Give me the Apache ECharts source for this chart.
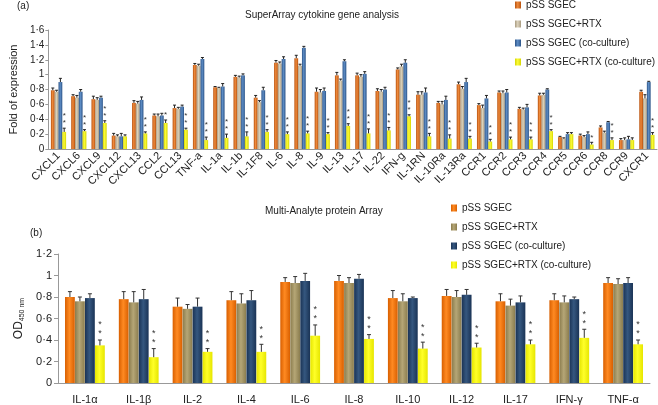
<!DOCTYPE html>
<html>
<head>
<meta charset="utf-8">
<script src="https://cdn.jsdelivr.net/npm/echarts@6/dist/echarts.min.js"></script>
<style>html,body{margin:0;padding:0;background:#fff;}#c{width:658px;height:405px;}</style>
</head>
<body>
<div id="c"></div>
<script>
// ---------- Panel (a): SuperArray cytokine gene analysis ----------
const catsA = ['CXCL1','CXCL6','CXCL9','CXCL12','CXCL13','CCL2','CCL13','TNF-a','IL-1a','IL-1b','IL-1F8','IL-6','IL-8','IL-9','IL-13','IL-17','IL-22','IFN-g','IL-1RN','IL-10Ra','IL-13Ra','CCR1','CCR2','CCR3','CCR4','CCR5','CCR6','CCR8','CCR9','CXCR1'];
const aSGEC      = [0.79,0.71,0.67,0.18,0.62,0.45,0.55,1.13,0.83,0.97,0.69,1.16,1.22,0.77,0.99,0.99,0.78,1.07,0.73,0.62,0.87,0.59,0.76,0.54,0.72,0.16,0.18,0.29,0.12,0.77];
const aSGECRTX   = [0.77,0.69,0.66,0.17,0.61,0.44,0.54,1.12,0.82,0.96,0.63,1.15,1.12,0.76,0.92,0.97,0.77,1.11,0.73,0.60,0.81,0.55,0.75,0.53,0.73,0.14,0.16,0.22,0.12,0.68];
const aCo        = [0.90,0.77,0.69,0.17,0.66,0.45,0.57,1.21,0.84,0.99,0.79,1.21,1.36,0.78,1.18,1.01,0.80,1.16,0.76,0.66,0.90,0.68,0.76,0.56,0.80,0.20,0.20,0.36,0.13,0.90];
const aCoRTX     = [0.23,0.24,0.35,0.17,0.21,0.35,0.26,0.12,0.15,0.17,0.23,0.20,0.21,0.20,0.31,0.21,0.25,0.44,0.17,0.14,0.14,0.10,0.13,0.13,0.24,0.20,0.06,0.12,0.12,0.19];
const aErrSGEC   = [0.03,0.02,0.04,0.03,0.03,0.02,0.04,0.02,0.01,0.02,0.03,0.03,0.04,0.05,0.04,0.03,0.03,0.02,0.04,0.02,0.03,0.02,0.02,0.02,0.03,0.01,0.02,0.02,0.02,0.02];
const aErrRTX    = [0.02,0.03,0.03,0.02,0.03,0.03,0.02,0.02,0.01,0.02,0.02,0.02,0.02,0.04,0.02,0.03,0.03,0.03,0.04,0.04,0.03,0.04,0.03,0.02,0.02,0.01,0.02,0.02,0.03,0.05];
const aErrCo     = [0.05,0.03,0.02,0.04,0.04,0.03,0.02,0.02,0.04,0.02,0.04,0.03,0.02,0.04,0.02,0.03,0.03,0.04,0.06,0.05,0.05,0.04,0.04,0.04,0.01,0.02,0.03,0.01,0.04,0.01];
const aErrCoRTX  = [0.05,0.02,0.03,0.02,0.02,0.04,0.02,0.04,0.05,0.06,0.03,0.03,0.03,0.02,0.03,0.06,0.04,0.02,0.04,0.05,0.03,0.03,0.03,0.03,0.02,0.02,0.03,0.03,0.03,0.03];
const aStars     = [2,2,2,0,2,1,2,2,2,2,2,2,2,2,2,2,2,2,2,2,2,2,2,2,2,0,1,2,0,2];

// ---------- Panel (b): Multi-Analyte protein Array ----------
const catsB = ['IL-1\u03b1','IL-1\u03b2','IL-2','IL-4','IL-6','IL-8','IL-10','IL-12','IL-17','IFN-\u03b3','TNF-\u03b1'];
const bSGEC     = [0.80,0.78,0.71,0.77,0.94,0.95,0.79,0.81,0.76,0.77,0.93];
const bSGECRTX  = [0.76,0.75,0.69,0.74,0.93,0.93,0.76,0.80,0.72,0.75,0.92];
const bCo       = [0.79,0.78,0.71,0.77,0.95,0.97,0.79,0.82,0.75,0.78,0.93];
const bCoRTX    = [0.35,0.24,0.29,0.29,0.44,0.41,0.32,0.33,0.36,0.42,0.36];
const bErrSGEC  = [0.05,0.07,0.08,0.08,0.04,0.05,0.07,0.06,0.07,0.06,0.05];
const bErrRTX   = [0.04,0.10,0.04,0.09,0.06,0.05,0.07,0.06,0.06,0.06,0.05];
const bErrCo    = [0.04,0.09,0.08,0.09,0.07,0.04,0.01,0.05,0.06,0.02,0.05];
const bErrCoRTX = [0.05,0.08,0.03,0.07,0.10,0.04,0.06,0.04,0.04,0.08,0.04];
const bStars    = [2,2,2,2,2,2,2,2,2,2,2];

const yTicksA = [0,0.2,0.4,0.6,0.8,1,1.2,1.4,1.6];
const yTicksB = [0,0.2,0.4,0.6,0.8,1,1.2];
const names = ['pSS SGEC','pSS SGEC+RTX','pSS SGEC (co-culture)','pSS SGEC+RTX (co-culture)'];

const FONT = '"Liberation Sans", Arial, Helvetica, sans-serif';
function grad(a, b) {
  return {type:'linear', x:0, y:0, x2:1, y2:0, colorStops:[{offset:0,color:a},{offset:0.45,color:b},{offset:1,color:a}]};
}
const colA = [grad('#B8520F','#EE8A3C'), grad('#A89B80','#DCD2BC'), grad('#2C5488','#5D8CC4'), grad('#D6D600','#FBFB3A')];
const colB = [grad('#D85F00','#FF8A22'), grad('#8A7C4E','#B5A676'), grad('#1A3355','#35577F'), grad('#E6E600','#FFFF28')];

const fmt = v => String(+(+v).toFixed(1)).replace('.', '\u00b7');

function errData(vals, errs, stars) {
  const out = [];
  for (let s = 0; s < 4; s++) {
    for (let i = 0; i < vals[s].length; i++) {
      out.push([i, s, vals[s][i], errs[s][i], s === 3 ? stars[i] : 0]);
    }
  }
  return out;
}

function makeRender(bw, capW, starFs, off1, off2, lineColor) {
  return function (params, api) {
    const c = api.value(0), s = api.value(1), v = api.value(2), e = api.value(3), st = api.value(4);
    const base = api.coord([c, v]);
    const top = api.coord([c, v + e]);
    const x = base[0] + (s - 1.5) * bw;
    const children = [
      {type:'line', shape:{x1:x, y1:base[1], x2:x, y2:top[1]}, style:{stroke:lineColor, lineWidth:1}},
      {type:'line', shape:{x1:x - capW/2, y1:top[1], x2:x + capW/2, y2:top[1]}, style:{stroke:lineColor, lineWidth:1}}
    ];
    const offs = [off1, off2];
    for (let k = 0; k < st; k++) {
      children.push({type:'text', style:{text:'*', x:x, y:top[1] - offs[k], textAlign:'center', textVerticalAlign:'middle', font: starFs + 'px ' + FONT, fill:'#333'}});
    }
    return {type:'group', children};
  };
}

const barsA = [aSGEC, aSGECRTX, aCo, aCoRTX].map((d, i) => ({
  name: names[i], type:'bar', xAxisIndex:0, yAxisIndex:0, data:d, barWidth:3.8, barGap:'0%',
  itemStyle:{color:colA[i]}, animation:false
}));
const barsB = [bSGEC, bSGECRTX, bCo, bCoRTX].map((d, i) => ({
  name: names[i] + ' ', type:'bar', xAxisIndex:1, yAxisIndex:1, data:d, barWidth:9.8, barGap:'2%',
  itemStyle:{color:colB[i]}, animation:false
}));

const chart = echarts.init(document.getElementById('c'), null, {renderer:'canvas'});
chart.setOption({
  animation:false,
  textStyle:{fontFamily:FONT},
  graphic:[
    {type:'text', left:17, top:1, style:{text:'(a)', font:'10px ' + FONT, fill:'#222'}},
    {type:'text', left:245, top:10, style:{text:'SuperArray cytokine gene analysis', font:'10px ' + FONT, fill:'#222'}},
    {type:'text', left:30, top:228, style:{text:'(b)', font:'10px ' + FONT, fill:'#222'}},
    {type:'text', left:265, top:206, style:{text:'Multi-Analyte protein Array', font:'10px ' + FONT, fill:'#222'}}
  ],
  legend:[
    {orient:'vertical', left:515, top:0, padding:0, itemWidth:6, itemHeight:7, itemGap:9, icon:'rect',
     data:names, textStyle:{fontSize:10, color:'#222', fontFamily:FONT}, selectedMode:false},
    {orient:'vertical', left:451, top:203, padding:0, itemWidth:6, itemHeight:7, itemGap:9, icon:'rect',
     data:names.map(n => n + ' '), textStyle:{fontSize:10, color:'#222', fontFamily:FONT}, selectedMode:false}
  ],
  grid:[
    {left:39, top:30, width:618, height:119},
    {left:58, top:254, width:592, height:129}
  ],
  xAxis:[
    {type:'category', gridIndex:0, data:catsA,
     axisLine:{lineStyle:{color:'#999'}}, axisTick:{length:4, lineStyle:{color:'#999'}},
     axisLabel:{interval:0, rotate:45, fontSize:11, color:'#222', margin:5, fontFamily:FONT}},
    {type:'category', gridIndex:1, data:catsB,
     axisLine:{lineStyle:{color:'#999'}}, axisTick:{length:5, lineStyle:{color:'#999'}},
     axisLabel:{interval:0, fontSize:11, color:'#222', margin:11, fontFamily:FONT}}
  ],
  yAxis:[
    {type:'value', gridIndex:0, min:yTicksA[0], max:yTicksA[yTicksA.length-1], interval:0.2,
     name:'Fold of expression', nameLocation:'middle', nameGap:25, nameTextStyle:{fontSize:11, color:'#222', fontFamily:FONT},
     axisLine:{show:true, lineStyle:{color:'#999'}}, axisTick:{show:true, length:3, lineStyle:{color:'#999'}},
     splitLine:{show:false}, axisLabel:{formatter:fmt, fontSize:10, color:'#222', margin:4, fontFamily:FONT}},
    {type:'value', gridIndex:1, min:yTicksB[0], max:yTicksB[yTicksB.length-1], interval:0.2,
     name:'{a|OD}{b|450 nm}', nameLocation:'middle', nameGap:18,
     nameTextStyle:{rich:{a:{fontSize:12, color:'#222', fontFamily:FONT}, b:{fontSize:7, color:'#222', fontFamily:FONT, verticalAlign:'bottom', padding:[6,0,0,0]}}},
     axisLine:{show:true, lineStyle:{color:'#999'}}, axisTick:{show:true, length:4, lineStyle:{color:'#999'}},
     splitLine:{show:false}, axisLabel:{formatter:fmt, fontSize:11, color:'#222', margin:6, fontFamily:FONT}}
  ],
  series: barsA.concat(barsB).concat([
    {type:'custom', xAxisIndex:0, yAxisIndex:0, z:5, animation:false,
     renderItem: makeRender(3.8, 3, 8, 5, 12, '#222'),
     encode:{x:0, y:2},
     data: errData([aSGEC,aSGECRTX,aCo,aCoRTX],[aErrSGEC,aErrRTX,aErrCo,aErrCoRTX],aStars)},
    {type:'custom', xAxisIndex:1, yAxisIndex:1, z:5, animation:false,
     renderItem: makeRender(10, 4, 9, 6, 15, '#333'),
     encode:{x:0, y:2},
     data: errData([bSGEC,bSGECRTX,bCo,bCoRTX],[bErrSGEC,bErrRTX,bErrCo,bErrCoRTX],bStars)}
  ])
});
</script>
</body>
</html>
